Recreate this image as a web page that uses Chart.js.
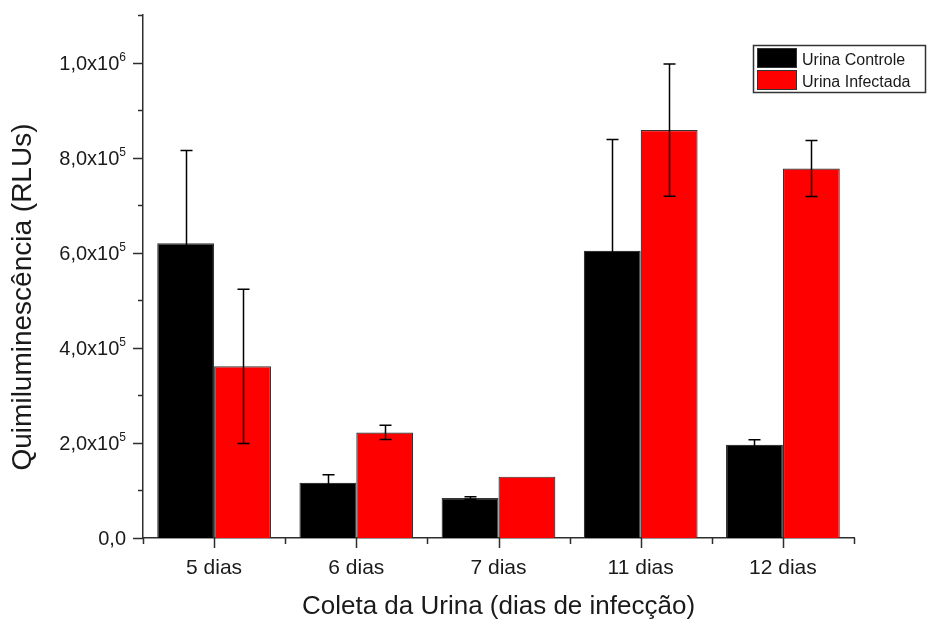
<!DOCTYPE html>
<html>
<head>
<meta charset="utf-8">
<script src="https://cdn.jsdelivr.net/npm/chart.js@4/dist/chart.umd.min.js"></script>
<style>
  html, body { margin: 0; padding: 0; background: #fff; }
  #wrap { width: 928px; height: 624px; }
</style>
</head>
<body>
<div id="wrap"><canvas id="chart" width="928" height="624"></canvas></div>
<script>
// dados
const categorias = ['5 dias', '6 dias', '7 dias', '11 dias', '12 dias'];
const controle = [620000, 116000, 84000, 604000, 196000];
const controleErro = [195000, 17000, 3000, 234000, 10500];
const infectada = [361000, 222000, 129000, 858000, 777000];
const infectadaErro = [162000, 15000, 0, 139000, 59000];

const yTicks = [0, 200000, 400000, 600000, 800000, 1000000];
const yTickBase = ['0,0', '2,0x10', '4,0x10', '6,0x10', '8,0x10', '1,0x10'];
const yTickExp = ['', '5', '5', '5', '5', '6'];

const textColor = '#1a1a1a';
const axisColor = '#2e2e2e';
const fontFamily = 'Arial, "Liberation Sans", sans-serif';

// barras de erro
const errorBars = {
    id: 'errorBars',
    afterDatasetsDraw(chart) {
        const ctx = chart.ctx;
        const y = chart.scales.y;
        const erros = [controleErro, infectadaErro];
        ctx.save();
        ctx.strokeStyle = '#000000';
        ctx.lineWidth = 1.5;
        chart.data.datasets.forEach((ds, i) => {
            const meta = chart.getDatasetMeta(i);
            meta.data.forEach((bar, j) => {
                const err = erros[i][j];
                if (!err) return;
                const top = y.getPixelForValue(ds.data[j] + err);
                const bot = y.getPixelForValue(ds.data[j] - err);
                const x = Math.round(bar.x) + 0.5;
                ctx.beginPath();
                ctx.moveTo(x, bot); ctx.lineTo(x, top);
                ctx.moveTo(x - 6, top); ctx.lineTo(x + 6, top);
                ctx.moveTo(x - 6, bot); ctx.lineTo(x + 6, bot);
                ctx.stroke();
            });
        });
        ctx.restore();
    }
};

// marcas dos eixos, rótulos do eixo y, título do eixo y e legenda
const decor = {
    id: 'decor',
    afterDraw(chart) {
        const ctx = chart.ctx;
        const xs = chart.scales.x;
        const ys = chart.scales.y;
        const area = chart.chartArea;
        ctx.save();
        ctx.strokeStyle = axisColor;
        ctx.lineWidth = 1.5;

        // ticks y
        ctx.beginPath();
        yTicks.forEach(v => {
            const py = Math.round(ys.getPixelForValue(v)) + 0.5;
            ctx.moveTo(area.left - 10, py); ctx.lineTo(area.left, py);
        });
        for (let v = 100000; v <= 1100000; v += 200000) {
            const py = Math.round(ys.getPixelForValue(v)) + 0.5;
            ctx.moveTo(area.left - 5, py); ctx.lineTo(area.left, py);
        }
        // ticks x
        categorias.forEach((c, i) => {
            const px = Math.round(xs.getPixelForValue(i)) + 0.5;
            ctx.moveTo(px, area.bottom); ctx.lineTo(px, area.bottom + 10);
        });
        for (let i = 0; i <= categorias.length; i++) {
            const px = Math.round(xs.getPixelForValue(i - 0.5)) + 0.5;
            ctx.moveTo(px, area.bottom); ctx.lineTo(px, area.bottom + 6);
        }
        ctx.stroke();

        // rótulos y com expoente
        ctx.fillStyle = textColor;
        ctx.textBaseline = 'alphabetic';
        ctx.textAlign = 'left';
        yTicks.forEach((v, i) => {
            const py = ys.getPixelForValue(v);
            ctx.font = '12px ' + fontFamily;
            const wExp = yTickExp[i] ? ctx.measureText(yTickExp[i]).width : 0;
            ctx.font = '20px ' + fontFamily;
            const wBase = ctx.measureText(yTickBase[i]).width;
            const right = area.left - 17;
            ctx.fillText(yTickBase[i], right - wExp - wBase, py + 7);
            if (yTickExp[i]) {
                ctx.font = '12px ' + fontFamily;
                ctx.fillText(yTickExp[i], right - wExp, py - 2);
            }
        });

        // título y
        ctx.save();
        ctx.translate(31, 297);
        ctx.rotate(-Math.PI / 2);
        ctx.font = '28px ' + fontFamily;
        ctx.textAlign = 'center';
        ctx.fillText('Quimiluminescência (RLUs)', 0, 0);
        ctx.restore();

        // legenda
        const lx = 753, ly = 45, lw = 172, lh = 47;
        ctx.fillStyle = '#fff';
        ctx.fillRect(lx, ly, lw, lh);
        ctx.strokeStyle = '#333';
        ctx.lineWidth = 1.5;
        ctx.strokeRect(lx + 0.5, ly + 0.5, lw, lh);
        ctx.font = '16px ' + fontFamily;
        chart.data.datasets.forEach((ds, i) => {
            const sy = ly + 3.5 + i * 22;
            ctx.fillStyle = ds.backgroundColor;
            ctx.fillRect(lx + 4.5, sy, 39, 19);
            ctx.strokeStyle = '#333';
            ctx.lineWidth = 1;
            ctx.strokeRect(lx + 4.5, sy, 39, 19);
            ctx.fillStyle = textColor;
            ctx.textAlign = 'left';
            ctx.fillText(ds.label, lx + 49, sy + 16);
        });
        ctx.restore();
    }
};

new Chart(document.getElementById('chart'), {
    type: 'bar',
    data: {
        labels: categorias,
        datasets: [
            {
                label: 'Urina Controle',
                data: controle,
                backgroundColor: '#000000',
                borderColor: '#333333',
                borderWidth: 1.2,
                categoryPercentage: 0.8,
                barPercentage: 1.0
            },
            {
                label: 'Urina Infectada',
                data: infectada,
                backgroundColor: '#ff0000',
                borderColor: '#333333',
                borderWidth: 1.2,
                categoryPercentage: 0.8,
                barPercentage: 1.0
            }
        ]
    },
    options: {
        responsive: false,
        animation: false,
        layout: { padding: { left: 0, top: 15, right: 74, bottom: 0 } },
        plugins: {
            legend: { display: false },
            tooltip: { enabled: false }
        },
        scales: {
            x: {
                offset: true,
                grid: { display: false, drawTicks: false },
                border: { display: true, color: axisColor, width: 1.5 },
                ticks: {
                    color: textColor,
                    font: { family: fontFamily, size: 21 },
                    padding: 18,
                    maxRotation: 0
                },
                title: {
                    display: true,
                    text: 'Coleta da Urina (dias de infecção)',
                    color: textColor,
                    font: { family: fontFamily, size: 26 },
                    padding: { top: 0, bottom: 2 }
                },
                afterFit(scale) { scale.height = 86; }
            },
            y: {
                min: 0,
                max: 1100000,
                grid: { display: false, drawTicks: false },
                border: { display: true, color: axisColor, width: 1.5 },
                ticks: { display: false },
                afterFit(scale) { scale.width = 143; }
            }
        }
    },
    plugins: [errorBars, decor]
});
</script>
</body>
</html>
